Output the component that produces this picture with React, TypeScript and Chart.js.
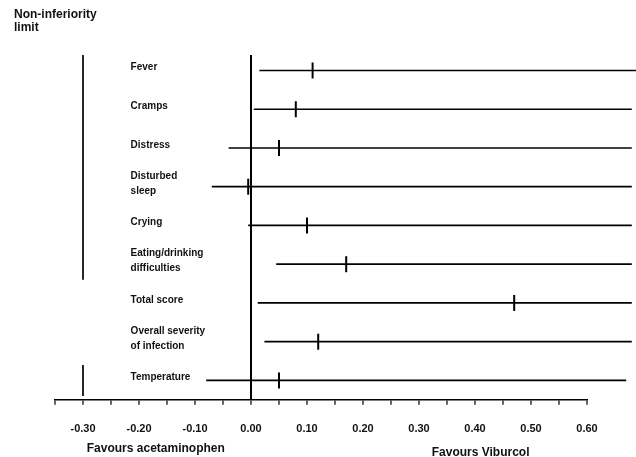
import React, { useEffect, useRef } from "react";
import { Chart, registerables } from "chart.js";

Chart.register(...registerables);

// ---- data ----
const outcomes: string[][] = [
  ["Fever"],
  ["Cramps"],
  ["Distress"],
  ["Disturbed", "sleep"],
  ["Crying"],
  ["Eating/drinking", "difficulties"],
  ["Total score"],
  ["Overall severity", "of infection"],
  ["Temperature"],
];
const estimates = [0.11, 0.08, 0.05, -0.005, 0.1, 0.17, 0.47, 0.12, 0.05];
const lowerCI = [0.015, 0.005, -0.04, -0.07, -0.005, 0.045, 0.012, 0.024, -0.08];
const upperCI = [0.69, 0.68, 0.68, 0.68, 0.68, 0.68, 0.68, 0.68, 0.67];
const nonInferiorityLimit = -0.3;
const limitRowGroups = [
  [0, 5],
  [8, 8],
];
const xMin = -0.35;
const xMax = 0.6;
const xStep = 0.05;
const titleLines = ["Non-inferiority", "limit"];
const favoursLeft = "Favours acetaminophen";
const favoursRight = "Favours Viburcol";

const FONT = "'Liberation Sans', Arial, Helvetica, sans-serif";

const textPlugin = {
  id: "forestText",
  afterDraw(chart: any) {
    const { ctx, scales, chartArea } = chart;
    const x = scales.x;
    const y = scales.y;
    ctx.save();
    ctx.fillStyle = "#111";
    ctx.textBaseline = "middle";
    // title
    ctx.font = `bold 12px ${FONT}`;
    ctx.textAlign = "left";
    titleLines.forEach((t, i) => ctx.fillText(t, 14, 15 + i * 13));
    // row labels
    ctx.font = `bold 10px ${FONT}`;
    const lx = x.getPixelForValue(-0.215);
    outcomes.forEach((lines, i) => {
      const cy = y.getPixelForValue(i) - 3;
      const lh = 15;
      const top = cy - ((lines.length - 1) * lh) / 2;
      lines.forEach((t, k) => ctx.fillText(t, lx, top + k * lh));
    });
    // favours labels
    ctx.font = `bold 12px ${FONT}`;
    ctx.textAlign = "center";
    ctx.fillText(favoursLeft, x.getPixelForValue(-0.17), chartArea.bottom + 49);
    ctx.fillText(favoursRight, x.getPixelForValue(0.41), chartArea.bottom + 53);
    ctx.restore();
  },
};

export default function App() {
  const ref = useRef<HTMLCanvasElement>(null);
  useEffect(() => {
    document.body.style.margin = "0";
    const ciSets = outcomes.map((_, i) => ({
      data: [
        { x: lowerCI[i], y: i },
        { x: upperCI[i], y: i },
      ],
      showLine: true,
      borderColor: "#000",
      borderWidth: 1.7,
      pointRadius: 0,
      clip: false as any,
    }));
    const limitSets = limitRowGroups.map((g) => ({
      data: [
        { x: nonInferiorityLimit, y: g[0] - 0.4 },
        { x: nonInferiorityLimit, y: g[1] + 0.4 },
      ],
      showLine: true,
      borderColor: "#000",
      borderWidth: 1.7,
      pointRadius: 0,
      clip: false as any,
    }));
    const estSet = {
      data: estimates.map((v, i) => ({ x: v, y: i })),
      showLine: false,
      pointStyle: "line" as const,
      pointRadius: 8,
      rotation: 90,
      borderColor: "#000",
      borderWidth: 2,
      clip: false as any,
    };
    const chart = new Chart(ref.current!, {
      type: "scatter",
      data: { datasets: [...ciSets, ...limitSets, estSet] as any },
      plugins: [textPlugin],
      options: {
        animation: false,
        responsive: false,
        events: [],
        layout: { padding: { top: 55, left: 55, right: 49, bottom: 3 } },
        plugins: { legend: { display: false }, tooltip: { enabled: false } },
        scales: {
          x: {
            type: "linear",
            min: xMin,
            max: xMax,
            border: { color: "#000", width: 1.6 },
            grid: {
              drawOnChartArea: true,
              color: (c: any) =>
                c.tick && Math.abs(c.tick.value) < 1e-9 ? "#000" : "rgba(0,0,0,0)",
              lineWidth: 2,
              tickColor: "#000",
              tickWidth: 1.2,
              tickLength: 5,
            },
            ticks: {
              stepSize: xStep,
              autoSkip: false,
              maxRotation: 0,
              padding: 18,
              color: "#111",
              font: { family: FONT, size: 11, weight: "bold" },
              callback: (v: any) => {
                const n = Math.round(Number(v) * 100);
                if (n % 10 !== 0 || n < -30) return "";
                return (n / 100).toFixed(2);
              },
            },
          },
          y: {
            type: "linear",
            display: false,
            reverse: true,
            min: -0.4,
            max: 8.5,
          },
        },
      },
    });
    return () => chart.destroy();
  }, []);
  return <canvas ref={ref} width={636} height={457} style={{ display: "block" }} />;
}
